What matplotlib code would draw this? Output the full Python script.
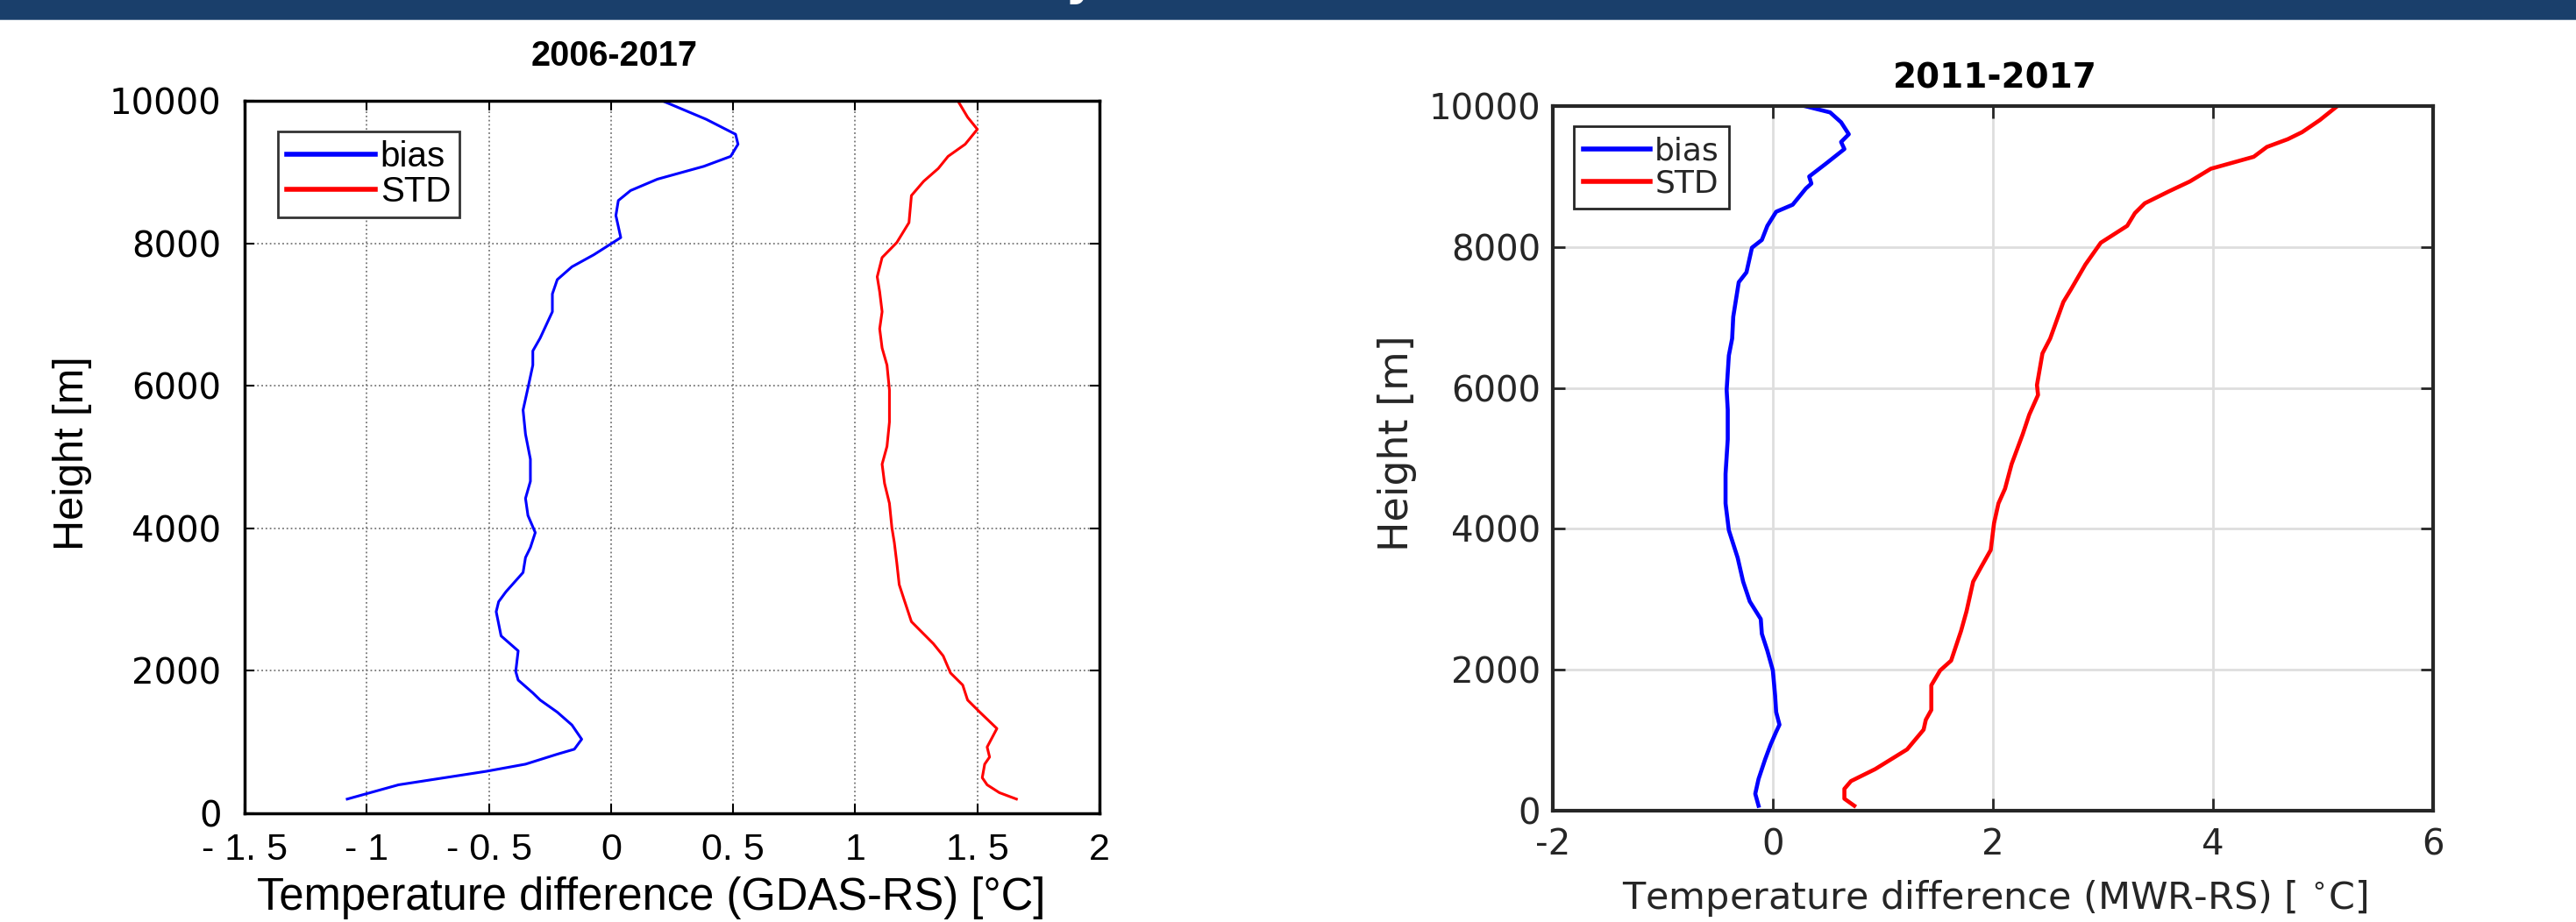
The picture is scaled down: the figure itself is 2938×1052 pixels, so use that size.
import matplotlib
matplotlib.use("Agg")
import matplotlib.pyplot as plt
from matplotlib.patches import Rectangle

plt.rcParams["axes.unicode_minus"] = False

# ---- data ----
# left panel: GDAS-RS, 2006-2017
gdas_bias_h = [200, 400, 590, 690, 830, 900, 1040, 1240, 1420, 1590, 1690, 1870, 1990, 2280,
               2490, 2830, 2970, 3110, 3380, 3590, 3730, 3940, 4180, 4420, 4660, 4970, 5320,
               5660, 5970, 6290, 6490, 6670, 7040, 7290, 7490, 7670, 7840, 8080, 8390, 8600,
               8740, 8900, 9080, 9220, 9390, 9530, 9740, 10000]
gdas_bias = [-1.08, -0.87, -0.51, -0.35, -0.22, -0.15, -0.12, -0.16, -0.22, -0.29, -0.32, -0.38,
             -0.39, -0.38, -0.45, -0.47, -0.46, -0.43, -0.36, -0.35, -0.33, -0.31, -0.34, -0.35,
             -0.33, -0.33, -0.35, -0.36, -0.34, -0.32, -0.32, -0.29, -0.24, -0.24, -0.22, -0.16,
             -0.07, 0.04, 0.02, 0.03, 0.08, 0.19, 0.38, 0.49, 0.52, 0.51, 0.39, 0.21]
gdas_std_h = [200, 290, 400, 500, 690, 790, 930, 1190, 1420, 1590, 1800, 1970, 2210, 2380, 2690,
              3000, 3210, 3520, 3800, 4010, 4350, 4630, 4900, 5150, 5490, 5940, 6290, 6530, 6800,
              7040, 7320, 7530, 7800, 8010, 8290, 8670, 8870, 9050, 9220, 9390, 9600, 9770, 10000]
gdas_std = [1.66, 1.59, 1.54, 1.52, 1.53, 1.55, 1.54, 1.58, 1.51, 1.46, 1.44, 1.39, 1.36, 1.32,
            1.23, 1.20, 1.18, 1.17, 1.16, 1.15, 1.14, 1.12, 1.11, 1.13, 1.14, 1.14, 1.13, 1.11,
            1.10, 1.11, 1.10, 1.09, 1.11, 1.17, 1.22, 1.23, 1.28, 1.34, 1.38, 1.45, 1.50, 1.46, 1.42]

# right panel: MWR-RS, 2011-2017
mwr_bias_h = [70, 240, 450, 730, 940, 1120, 1220, 1400, 1640, 1990, 2270, 2510, 2720, 2970, 3250,
              3590, 3980, 4360, 4780, 5270, 5690, 5970, 6460, 6700, 7010, 7500, 7640, 7850, 7990,
              8100, 8300, 8500, 8600, 8830, 8900, 9000, 9180, 9390, 9490, 9600, 9770, 9910, 10000]
mwr_bias = [-0.13, -0.16, -0.13, -0.07, -0.02, 0.03, 0.06, 0.03, 0.02, 0.0, -0.05, -0.10, -0.11,
            -0.21, -0.27, -0.32, -0.40, -0.43, -0.43, -0.41, -0.41, -0.42, -0.40, -0.37, -0.36,
            -0.31, -0.24, -0.21, -0.19, -0.10, -0.05, 0.03, 0.18, 0.30, 0.35, 0.33, 0.48, 0.65,
            0.62, 0.69, 0.62, 0.52, 0.29]
mwr_std_h = [70, 170, 310, 420, 590, 870, 1150, 1290, 1430, 1780, 1990, 2130, 2550, 2830, 3250,
             3450, 3700, 4080, 4360, 4570, 4920, 5340, 5620, 5900, 6040, 6490, 6700, 7220, 7400,
             7750, 8060, 8300, 8480, 8620, 8790, 8930, 9110, 9280, 9420, 9530, 9630, 9800, 10000]
mwr_std = [0.74, 0.65, 0.65, 0.71, 0.93, 1.22, 1.37, 1.39, 1.44, 1.44, 1.52, 1.62, 1.71, 1.76,
           1.82, 1.89, 1.98, 2.01, 2.05, 2.11, 2.17, 2.27, 2.33, 2.41, 2.40, 2.45, 2.52, 2.64,
           2.71, 2.84, 2.98, 3.22, 3.29, 3.38, 3.60, 3.79, 3.98, 4.37, 4.49, 4.68, 4.81, 4.97, 5.13]

left_xticks = [-1.5, -1, -0.5, 0, 0.5, 1, 1.5, 2]
left_xticklabels = ["- 1. 5", "- 1", "- 0. 5", "0", "0. 5", "1", "1. 5", "2"]
yticks = [0, 2000, 4000, 6000, 8000, 10000]
right_xticks = [-2, 0, 2, 4, 6]

W, H = 2938, 1052
fig = plt.figure(figsize=(W / 100, H / 100), dpi=100)

# dark banner across the top (a cut-off letter of the slide heading shows in it)
fig.patches.append(Rectangle((0, 1 - 22 / H), 1, 22 / H, transform=fig.transFigure,
                             facecolor="#1a3f6b", edgecolor="none"))
fig.patches.append(Rectangle((0, 1 - 23 / H), 1, 1.5 / H, transform=fig.transFigure,
                             facecolor="#5b7696", edgecolor="none"))
fig.text(1232 / W, 1 + 7 / H, "y", color="white", fontsize=40, fontweight="bold",
         ha="center", va="baseline", family="DejaVu Sans")

# ---- left panel ----
ax1 = fig.add_axes([279 / W, 1 - 928 / H, 975 / W, 813 / H])
ax1.plot(gdas_bias, gdas_bias_h, color="blue", lw=2.2, label="bias")
ax1.plot(gdas_std, gdas_std_h, color="red", lw=2.2, label="STD")
ax1.set_xlim(-1.5, 2)
ax1.set_ylim(0, 10000)
ax1.set_xticks(left_xticks)
ax1.set_xticklabels(left_xticklabels, family="Liberation Sans", fontsize=31)
ax1.set_yticks(yticks)
ax1.set_yticklabels([str(v) for v in yticks], family="DejaVu Sans", fontsize=29)
ax1.grid(True, ls=":", color="#777777", lw=1.3)
ax1.set_axisbelow(True)
ax1.tick_params(direction="in", length=8, width=1.5, top=True, right=True, colors="black")
ax1.tick_params(axis="x", pad=16)
ax1.tick_params(axis="y", pad=19)
for s in ax1.spines.values():
    s.set_linewidth(2.5)
    s.set_color("black")
ax1.set_xlabel("Temperature difference (GDAS-RS) [°C]", family="Liberation Sans",
               fontsize=36.5, va="center")
ax1.xaxis.set_label_coords(0.476, -0.119)
ax1.set_ylabel("Height [m]", family="Liberation Sans", fontsize=35, va="center")
ax1.yaxis.set_label_coords(-0.202, 0.505)
ax1.set_title("2006-2017", family="Liberation Sans", fontweight="bold", fontsize=28.5,
              x=0.432, y=1.063, va="center", pad=0)
leg1 = ax1.legend(loc="upper left", bbox_to_anchor=(0.039, 0.957), borderaxespad=0,
                  prop={"family": "Liberation Sans", "size": 29}, fancybox=False,
                  framealpha=1, edgecolor="#333333", handlelength=2.5, handletextpad=0.15,
                  borderpad=0.25, labelspacing=0.05)
leg1.get_frame().set_linewidth(2)
for ln in leg1.get_lines():
    ln.set_linewidth(4)

# ---- right panel ----
gray = "#262626"
ax2 = fig.add_axes([1771 / W, 1 - 925 / H, 1004 / W, 804 / H])
ax2.plot(mwr_bias, mwr_bias_h, color="blue", lw=3.3, label="bias")
ax2.plot(mwr_std, mwr_std_h, color="red", lw=3.3, label="STD")
ax2.set_xlim(-2, 6)
ax2.set_ylim(0, 10000)
ax2.set_xticks(right_xticks)
ax2.set_yticks(yticks)
for lab in ax2.get_xticklabels() + ax2.get_yticklabels():
    lab.set_family("DejaVu Sans")
    lab.set_fontsize(29)
ax2.grid(True, ls="-", color="#dedede", lw=2)
ax2.set_axisbelow(True)
ax2.tick_params(direction="in", length=10, width=2, top=True, right=True, colors=gray)
ax2.tick_params(axis="x", pad=14)
ax2.tick_params(axis="y", pad=10)
for s in ax2.spines.values():
    s.set_linewidth(3)
    s.set_color(gray)
ax2.set_xlabel(r"Temperature difference (MWR-RS) [ $^{\circ}$C]", family="DejaVu Sans",
               fontsize=31, color=gray, va="center")
ax2.xaxis.set_label_coords(0.502, -0.124)
ax2.set_ylabel("Height [m]", family="DejaVu Sans", fontsize=33, color=gray, va="center")
ax2.yaxis.set_label_coords(-0.177, 0.521)
ax2.set_title("2011-2017", family="DejaVu Sans", fontweight="bold", fontsize=28,
              x=0.502, y=1.0386, va="center", pad=0)
leg2 = ax2.legend(loc="upper left", bbox_to_anchor=(0.024, 0.971), borderaxespad=0,
                  prop={"family": "DejaVu Sans", "size": 26}, fancybox=False,
                  framealpha=1, edgecolor=gray, handlelength=2.1, handletextpad=0.15,
                  borderpad=0.3, labelspacing=0.1)
leg2.get_frame().set_linewidth(2)
for t in leg2.get_texts():
    t.set_color(gray)
for ln in leg2.get_lines():
    ln.set_linewidth(4)

fig.savefig("out.png", dpi=100)
